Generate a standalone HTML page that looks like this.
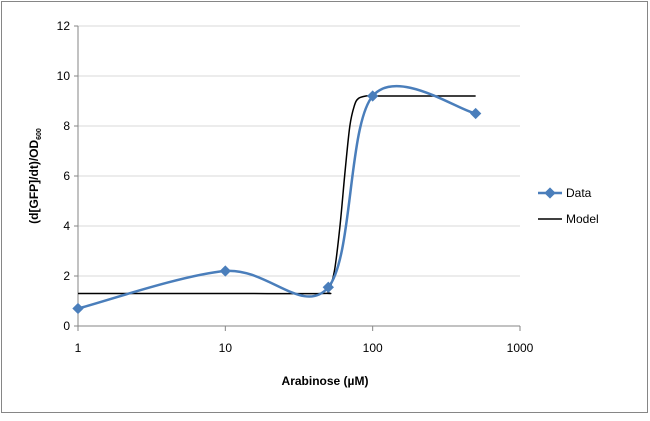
<!DOCTYPE html>
<html><head><meta charset="utf-8"><style>
body{margin:0;background:#fff;font-family:"Liberation Sans",sans-serif}
svg text{font-family:"Liberation Sans",sans-serif;fill:#000}
</style></head><body>
<svg width="650" height="416">
<rect x="1.5" y="1.5" width="646" height="411" fill="#fff" stroke="#868686"/>
<g id="grid"></g><g id="axes"></g><g id="series"></g>
<text x="325" y="385" text-anchor="middle" font-size="12" font-weight="bold">Arabinose (µM)</text>
<text transform="translate(38,176) rotate(-90)" text-anchor="middle" font-size="12" font-weight="bold">(d[GFP]/dt)/OD<tspan font-size="7" dy="3">600</tspan></text>
<g>
<g><line x1="538" y1="193" x2="562" y2="193" stroke="#4a7ebb" stroke-width="2.5"/><rect x="546" y="189" width="8" height="8" fill="#4a7ebb" transform="rotate(45 550 193)"/><text x="566" y="197" font-size="12">Data</text></g>
<g><line x1="538" y1="219" x2="562" y2="219" stroke="#000" stroke-width="1.5"/><text x="566" y="223" font-size="12">Model</text></g>
</g>
</svg>
<script>
const dataX=[1,10,50,100,500];
const dataY=[0.7,2.2,1.55,9.2,8.5];
const modelX=[1,10,45,50,55,60,65,70,75,80,90,100,200,500];
const modelY=[1.3,1.3,1.3,1.4,2.2,4.0,6.2,8.0,8.8,9.1,9.2,9.2,9.2,9.2];
const yTicks=[0,2,4,6,8,10,12];
const xTicks=[1,10,100,1000];
const NS="http://www.w3.org/2000/svg";
const X0=78,X1=520,Y0=326,Y1=26;
const sx=v=>X0+(Math.log10(v)/3)*(X1-X0);
const sy=v=>Y0-(v/12)*(Y0-Y1);
function mk(t,a,p){const e=document.createElementNS(NS,t);for(const k in a)e.setAttribute(k,a[k]);p.appendChild(e);return e;}
const grid=document.getElementById('grid'),axes=document.getElementById('axes'),ser=document.getElementById('series');
yTicks.forEach(v=>{
 const l=mk('line',{x1:X0,x2:X1,y1:sy(v),y2:sy(v),stroke:v===0?'#868686':'#d9d9d9'},grid);
 
 
 const t=mk('text',{x:X0-8,y:sy(v)+4,'text-anchor':'end','font-size':12},axes);t.textContent=v;
 
 
 mk('line',{x1:X0-4,x2:X0,y1:sy(v),y2:sy(v),stroke:'#868686'},axes);
});
mk('line',{x1:X0,x2:X0,y1:Y1,y2:Y0,stroke:'#868686'},axes);
xTicks.forEach(v=>{
 mk('line',{x1:sx(v),x2:sx(v),y1:Y0,y2:Y0+5,stroke:'#868686'},axes);
 const t=mk('text',{x:sx(v),y:Y0+26,'text-anchor':'middle','font-size':12},axes);t.textContent=v;
 
 
});
function smooth(pts){
 let d=`M${pts[0][0]},${pts[0][1]}`;
 for(let i=0;i<pts.length-1;i++){
  const p0=pts[i-1]||pts[i],p1=pts[i],p2=pts[i+1],p3=pts[i+2]||p2;
  const c1=[p1[0]+(p2[0]-p0[0])/6,p1[1]+(p2[1]-p0[1])/6];
  const c2=[p2[0]-(p3[0]-p1[0])/6,p2[1]-(p3[1]-p1[1])/6];
  d+=` C${c1[0]},${c1[1]} ${c2[0]},${c2[1]} ${p2[0]},${p2[1]}`;
 }
 return d;
}
const mp=modelX.map((x,i)=>[sx(x),sy(modelY[i])]);
const mline=mk('path',{d:smooth(mp),fill:'none',stroke:'#000','stroke-width':1.5},ser);


const dp=dataX.map((x,i)=>[sx(x),sy(dataY[i])]);
const dline=mk('path',{d:smooth(dp),fill:'none',stroke:'#4a7ebb','stroke-width':2.5},ser);


dp.forEach(p=>{
 const r=mk('rect',{x:p[0]-4,y:p[1]-4,width:8,height:8,fill:'#4a7ebb',transform:`rotate(45 ${p[0]} ${p[1]})`},ser);
 
 
});
</script>
</body></html>
